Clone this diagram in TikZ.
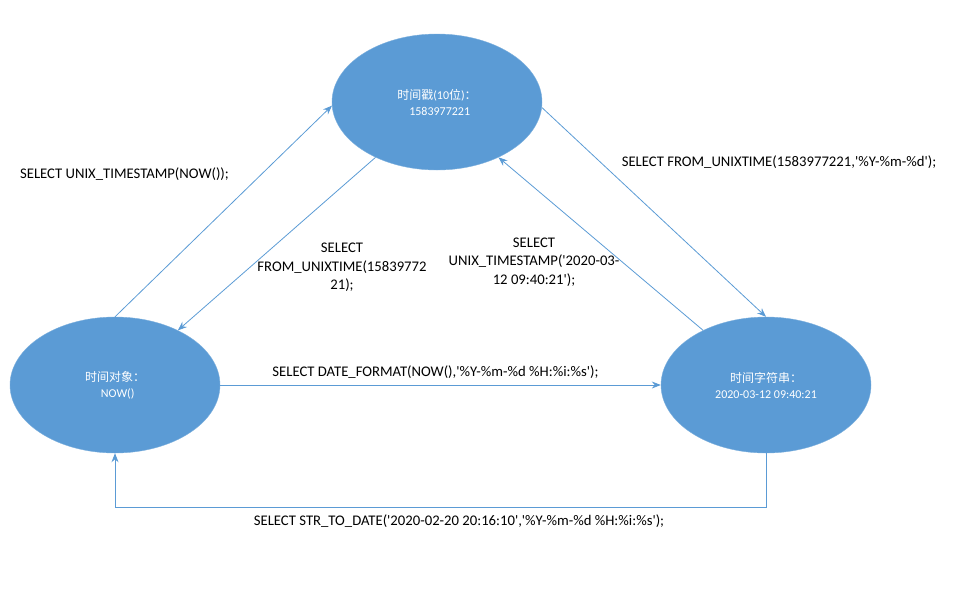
\documentclass[tikz,border=0pt]{standalone}
\usepackage{fontspec}
\setmainfont{Carlito}
\newfontfamily\cjk{Noto Sans CJK SC}
\usetikzlibrary{arrows.meta,shapes.geometric}
\definecolor{obl}{HTML}{5B9BD5}
\newcommand{\q}{\textquotesingle}
\begin{document}
\begin{tikzpicture}[x=1pt,y=-1pt,
  st/.style={ellipse, fill=obl, draw=obl!80!white, minimum width=210pt, minimum height=136pt, text=white, font=\fontsize{12}{16}\selectfont, align=center, inner sep=0pt},
  lbl/.style={font=\fontsize{14.7}{18.5}\selectfont, align=center, text=black, inner sep=0pt},
  conn/.style={draw=obl, line width=0.8pt, -{Stealth[length=9pt,width=7pt]}}]
\useasboundingbox (0,0) rectangle (973,603);
\node[st] (ts) at (437,102) {{\cjk 时间戳}(10{\cjk 位}){\cjk ：}\\\ \ 1583977221};
\node[st] (obj) at (115,385) {{\cjk 时间对象：}\\\ \ NOW()};
\node[st] (str) at (766,385) {{\cjk 时间字符串：}\\2020-03-12 09:40:21};
\draw[conn] (obj.90) -- (ts.182);
\draw[conn] (ts.222) -- (obj.41);
\draw[conn] (ts.357) -- (str.90);
\draw[conn] (str.139) -- (ts.318);
\draw[conn] (obj.0) -- (str.180);
\coordinate (br) at (766,507);
\coordinate (bl) at (115,507);
\draw[conn] (str.270) -- (br) -- (bl) -- (obj.270);
\node[lbl] (l1) at (124.5,174) {SELECT UNIX\_TIMESTAMP(NOW());};
\node[lbl] (l2) at (779,162) {SELECT FROM\_UNIXTIME(1583977221,\q\%Y-\%m-\%d\q);};
\node[lbl] (l3) at (342,267.5) {SELECT\\FROM\_UNIXTIME(15839772\\21);};
\node[lbl] (l4) at (534,262) {SELECT\\UNIX\_TIMESTAMP(\q2020-03-\\12 09:40:21\q);};
\node[lbl] (l5) at (435.5,372) {SELECT DATE\_FORMAT(NOW(),\q\%Y-\%m-\%d \%H:\%i:\%s\q);};
\node[lbl] (l6) at (459,521) {SELECT STR\_TO\_DATE(\q2020-02-20 20:16:10\q,\q\%Y-\%m-\%d \%H:\%i:\%s\q);};
\end{tikzpicture}
\end{document}
